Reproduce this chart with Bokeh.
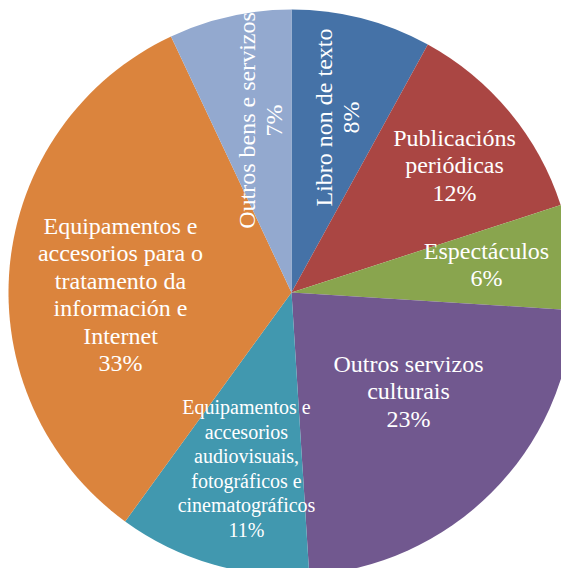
import math
from bokeh.plotting import figure
from bokeh.models import ColumnDataSource, Range1d
from bokeh.core.properties import value
from bokeh.embed import file_html
from bokeh.resources import INLINE

categories = ["Libro non de texto", "Publicacións periódicas", "Espectáculos",
              "Outros servizos culturais",
              "Equipamentos e accesorios audiovisuais, fotográficos e cinematográficos",
              "Equipamentos e accesorios para o tratamento da información e Internet",
              "Outros bens e servizos"]
shares = [8, 12, 6, 23, 11, 33, 7]
labels = ["Libro non de texto\n8%",
          "Publicacións\nperiódicas\n12%",
          "Espectáculos\n6%",
          "Outros servizos\nculturais\n23%",
          "Equipamentos e\naccesorios\naudiovisuais,\nfotográficos e\ncinematográficos\n11%",
          "Equipamentos e\naccesorios para o\ntratamento da\ninformación e\nInternet\n33%",
          "Outros bens e servizos\n7%"]
colors = ["#4572A7", "#AA4643", "#89A54E", "#71588F", "#4198AF", "#DB843D", "#93A9CF"]

# label placement (data units, pie centre at 0,0)
label_x = [46, 163, 195, 117, -45, -171, -31]
label_y = [175, 127, 28, -99, -176, -2, 172]
label_angle = [math.pi / 2, 0, 0, 0, 0, 0, math.pi / 2]
label_size = ["24px", "24px", "24px", "24px", "20px", "24px", "24px"]
label_lh = [1.06, 1.06, 1.06, 1.06, 1.11, 1.06, 1.06]

total = sum(shares)
starts, ends = [], []
acc = 0.0
for s in shares:
    a0 = math.pi / 2 - 2 * math.pi * acc / total
    acc += s
    a1 = math.pi / 2 - 2 * math.pi * acc / total
    starts.append(a1)
    ends.append(a0)

src = ColumnDataSource(dict(cat=categories, share=shares, start=starts, end=ends, color=colors))
lsrc = ColumnDataSource(dict(x=label_x, y=label_y, text=labels, angle=label_angle,
                             size=label_size, lh=label_lh))

p = figure(width=561, height=568, output_backend="svg", toolbar_location=None,
           x_range=Range1d(-291, 270), y_range=Range1d(-276, 292),
           min_border=0)
p.axis.visible = False
p.grid.visible = False
p.outline_line_color = None
p.background_fill_color = "white"

p.wedge(x=0, y=0, radius=283, start_angle="start", end_angle="end",
        fill_color="color", line_color=None, source=src)

p.text(x="x", y="y", text="text", angle="angle", source=lsrc,
       text_color="white", text_font=value("Times New Roman"),
       text_font_size="size", text_line_height="lh",
       text_align="center", text_baseline="middle")

open("out.html", "w").write(file_html(p, INLINE))
